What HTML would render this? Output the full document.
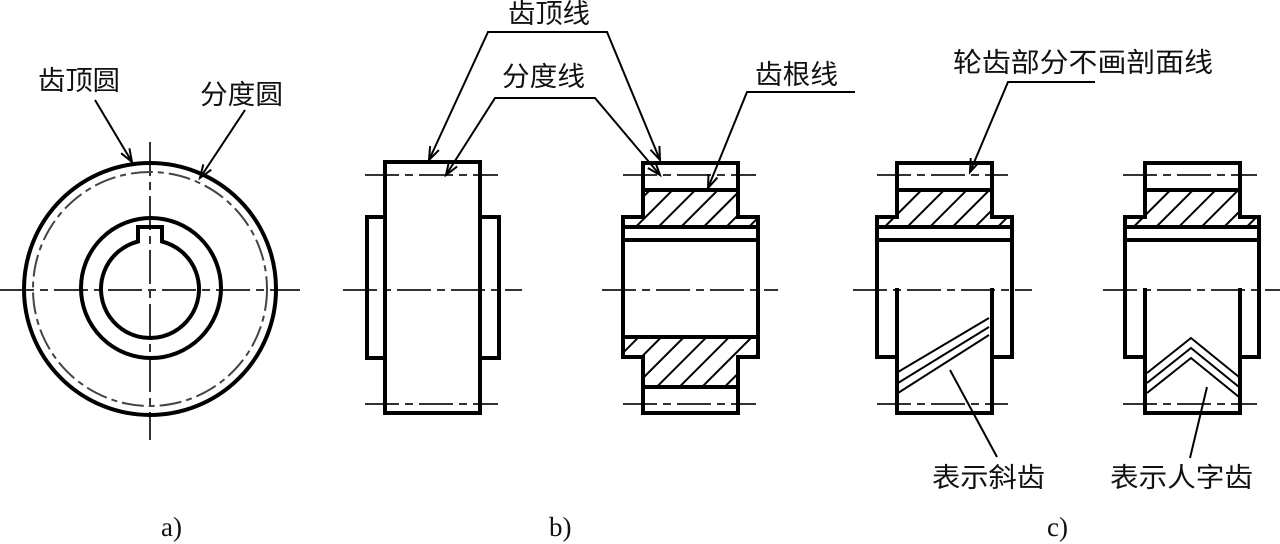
<!DOCTYPE html>
<html><head><meta charset="utf-8"><style>
html,body{margin:0;padding:0;background:#fff;}
svg{display:block;}
.cjk{font-family:"Liberation Sans","Noto Sans CJK SC","WenQuanYi Zen Hei",sans-serif;font-size:27px;fill:#111;}
.lat{font-family:"Liberation Serif",serif;font-size:27px;fill:#111;}
</style></head><body>
<svg width="1280" height="544" viewBox="0 0 1280 544" xmlns="http://www.w3.org/2000/svg">
<defs>
<pattern id="h" patternUnits="userSpaceOnUse" width="16" height="16" patternTransform="rotate(45)">
<line x1="2" y1="-2" x2="2" y2="20" stroke="#000" stroke-width="2"/>
</pattern>
</defs>
<rect width="1280" height="544" fill="#fff"/>

<!-- ===== a) ===== -->
<g fill="none" stroke="#333" stroke-width="2" stroke-dasharray="34 6 8 6">
<line x1="0" y1="290" x2="300" y2="290"/>
<line x1="150" y1="142" x2="150" y2="440"/>
</g>
<circle cx="150" cy="289" r="117" fill="none" stroke="#444" stroke-width="2" stroke-dasharray="22 5 6 5"/>
<circle cx="150" cy="289" r="126" fill="none" stroke="#000" stroke-width="4"/>
<circle cx="151" cy="288" r="70" fill="none" stroke="#000" stroke-width="4"/>
<path d="M138,241.5 V227 H162 V241.5 A49,49 0 1 1 138,241.5 Z" fill="none" stroke="#000" stroke-width="4"/>
<g fill="none" stroke="#000" stroke-width="2">
<line x1="95" y1="100" x2="132" y2="162"/>
<polyline points="129.4,148.3 132,162 121.1,153.2"/>
<line x1="245" y1="110" x2="200" y2="178"/>
<polyline points="211.3,169.7 200,178 203.3,164.4"/>
</g>
<text class="cjk" x="38" y="90" textLength="82" lengthAdjust="spacingAndGlyphs">齿顶圆</text>
<text class="cjk" x="200" y="104" textLength="83" lengthAdjust="spacingAndGlyphs">分度圆</text>
<text class="lat" x="161" y="536">a)</text>

<!-- ===== b) left view ===== -->
<g fill="none" stroke="#333" stroke-width="2" stroke-dasharray="34 6 8 6">
<line x1="365" y1="175" x2="498" y2="175"/>
<line x1="365" y1="404" x2="498" y2="404"/>
<line x1="343" y1="290" x2="522" y2="290"/>
</g>
<g fill="none" stroke="#000" stroke-width="4">
<rect x="385" y="162" width="95" height="251"/>
<path d="M385,217 H367 V358 H385"/>
<path d="M480,217 H499 V358 H480"/>
</g>

<!-- ===== b) right view ===== -->
<path d="M643,190 H738 V217 H758 V227 H623 V217 H643 Z" fill="url(#h)"/>
<path d="M623,337 H758 V357 H738 V387 H643 V357 H623 Z" fill="url(#h)"/>
<g fill="none" stroke="#333" stroke-width="2" stroke-dasharray="34 6 8 6">
<line x1="623" y1="175" x2="756" y2="175"/>
<line x1="623" y1="404" x2="756" y2="404"/>
<line x1="602" y1="290" x2="778" y2="290"/>
</g>
<g fill="none" stroke="#000" stroke-width="4">
<path d="M643,163 H738 V217 H758 V357 H738 V413 H643 V357 H623 V217 H643 Z"/>
<path d="M643,190 H738 M623,227 H758 M623,240 H758 M623,337 H758 M643,387 H738"/>
</g>

<!-- b) leaders -->
<g fill="none" stroke="#000" stroke-width="2">
<polyline points="429,160 488,32 607,32 660,160"/>
<polyline points="446,175 495,98 595,98 660,175"/>
<polyline points="438.9,150.1 429,160 430.1,146.1"/>
<polyline points="457.1,166.5 446,175 449,161.3"/>
<polyline points="659.4,146 660,160 650.5,149.7"/>
<polyline points="655.2,161.9 660,175 647.9,168"/>
<polyline points="708,188 747,92 855,92"/>
<polyline points="717.4,177.6 708,188 708.5,174"/>
</g>
<text class="cjk" x="508" y="23" textLength="82" lengthAdjust="spacingAndGlyphs">齿顶线</text>
<text class="cjk" x="502" y="86" textLength="83" lengthAdjust="spacingAndGlyphs">分度线</text>
<text class="cjk" x="755" y="84" textLength="83" lengthAdjust="spacingAndGlyphs">齿根线</text>
<text class="lat" x="549" y="536">b)</text>

<!-- ===== c) view 1 ===== -->
<path d="M897,190 H992 V217 H1012 V227 H877 V217 H897 Z" fill="url(#h)"/>
<g fill="none" stroke="#333" stroke-width="2" stroke-dasharray="34 6 8 6">
<line x1="877" y1="175" x2="1008" y2="175"/>
<line x1="877" y1="404" x2="1008" y2="404"/>
<line x1="853" y1="290" x2="1032" y2="290"/>
</g>
<g fill="none" stroke="#000" stroke-width="4">
<path d="M897,357 H877 V217 H897 V163 H992 V217 H1012 V357 H992"/>
<path d="M897,288 V413 H992 V288"/>
<path d="M897,190 H992 M877,227 H1012 M877,240 H1012"/>
</g>
<g fill="none" stroke="#000" stroke-width="2">
<line x1="898" y1="372" x2="989" y2="318"/>
<line x1="898" y1="383" x2="989" y2="327"/>
<line x1="898" y1="393" x2="989" y2="335"/>
<line x1="950" y1="370" x2="997" y2="457"/>
</g>

<!-- ===== c) view 2 ===== -->
<path d="M1145,190 H1240 V217 H1260 V227 H1125 V217 H1145 Z" fill="url(#h)"/>
<g fill="none" stroke="#333" stroke-width="2" stroke-dasharray="34 6 8 6">
<line x1="1123" y1="175" x2="1257" y2="175"/>
<line x1="1123" y1="404" x2="1257" y2="404"/>
<line x1="1103" y1="290" x2="1280" y2="290"/>
</g>
<g fill="none" stroke="#000" stroke-width="4">
<path d="M1145,357 H1125 V217 H1145 V163 H1240 V217 H1259 V357 H1240"/>
<path d="M1145,288 V413 H1240 V288"/>
<path d="M1145,190 H1240 M1125,227 H1259 M1125,240 H1259"/>
</g>
<g fill="none" stroke="#000" stroke-width="2">
<polyline points="1147,373 1191,338 1239,377"/>
<polyline points="1147,383 1191,348 1239,387"/>
<polyline points="1147,393 1191,358 1239,397"/>
<line x1="1207" y1="387" x2="1190" y2="458"/>
</g>

<!-- c) leader -->
<g fill="none" stroke="#000" stroke-width="2">
<polyline points="970,172 1008,82 1095,82"/>
<polyline points="979.5,161.7 970,172 970.7,158"/>
</g>
<text class="cjk" x="953" y="72" textLength="260" lengthAdjust="spacingAndGlyphs">轮齿部分不画剖面线</text>
<text class="cjk" x="932" y="487" textLength="113" lengthAdjust="spacingAndGlyphs">表示斜齿</text>
<text class="cjk" x="1110" y="487" textLength="143" lengthAdjust="spacingAndGlyphs">表示人字齿</text>
<text class="lat" x="1047" y="536">c)</text>
</svg>
</body></html>
